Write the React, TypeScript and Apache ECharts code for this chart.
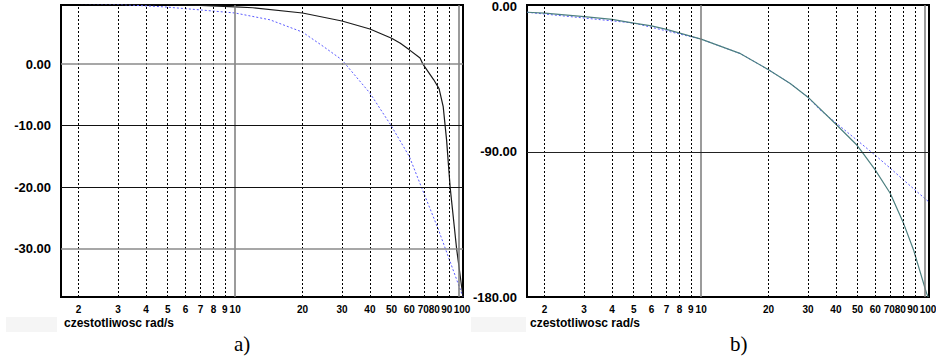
import React, { useEffect, useRef } from "react";
import * as echarts from "echarts";

// ---- data ----
const xMin = 1.668;
const xMax = 104.2;

const xTickValues = [2, 3, 4, 5, 6, 7, 8, 9, 10, 20, 30, 40, 50, 60, 70, 80, 90, 100];
const xMajorValues = [10, 100];

// plot a) magnitude
const yTicksA = [0, -10, -20, -30];
const yMinA = -37.8;
const yMaxA = 9.6;

const freqSolidA = [1.668, 5, 7, 10, 12, 20, 30, 40, 50, 54.7, 59.6, 67, 69, 77, 81.5, 85, 88, 91.3, 97.6, 104.2];
const magSolidA = [9.9, 9.7, 9.55, 9.3, 9.15, 8.3, 7.0, 5.7, 4.2, 3.4, 2.4, 1.0, 0, -2.5, -4.0, -6.9, -12.3, -20, -30, -37.8];

const freqDashA = [1.668, 3, 4.8, 7, 10, 14.3, 20, 24.8, 30, 32.7, 40, 50, 60, 68, 81, 87, 104.2];
const magDashA = [9.9, 9.7, 9.3, 8.8, 8.3, 7.2, 5.2, 2.86, 0.7, -0.93, -4.7, -10.1, -15, -20, -26.9, -30, -37.8];

// plot b) phase
const yTicksB = [0, -90, -180];
const yMinB = -180;
const yMaxB = 1.2;

const freqSolidB = [1.668, 2, 3, 4, 5, 6, 7, 10, 15, 20, 25, 30, 39.6, 49.6, 52.2, 59.8, 69.9, 80.2, 88.9, 101.6, 103.4];
const phSolidB = [-3.3, -3.9, -6, -7.7, -10, -11.8, -13.9, -20, -29, -39, -47.5, -56, -72.2, -85.7, -89.8, -101, -115.6, -134.3, -150.8, -177.7, -180];

const freqDashB = [1.668, 5, 10, 15, 20, 25, 30, 34, 49.6, 59.8, 70, 80.2, 101.6, 104.2];
const phDashB = [-3.3, -10, -20, -29, -39, -47.5, -56, -63.9, -82.6, -91.9, -100.1, -107.4, -119.8, -121];

const xAxisTitle = "czestotliwosc rad/s";

const pairs = (xs: number[], ys: number[]) => xs.map((x, i) => [x, ys[i]]);

const FONT = "'Liberation Sans', Arial, sans-serif";

// small label nudges for the crowded end of the log axis (pixels, +right)
const labelShift: Record<number, number> = { 70: -1, 80: -3, 90: -2, 100: 3 };

export default function App() {
  const ref = useRef<HTMLDivElement>(null);

  useEffect(() => {
    if (!ref.current) return;
    const chart = echarts.init(ref.current, null, { renderer: "svg" });

    const grids = [
      { left: 61, top: 5, width: 402, height: 292 },
      { left: 527, top: 5, width: 402, height: 292 },
    ];

    const vLines = () =>
      xTickValues.map((v) => {
        const major = xMajorValues.includes(v);
        const s = labelShift[v] || 0;
        return {
          xAxis: v,
          lineStyle: major
            ? { type: "solid", color: "#7a7a7a", width: 1.5 }
            : { type: [2, 2], color: "#000", width: 1 },
          label: {
            show: true,
            position: "start",
            distance: 7,
            formatter: String(v),
            fontFamily: FONT,
            fontWeight: "bold",
            fontSize: 10,
            color: "#000",
            padding: s >= 0 ? [0, 0, 0, 2 * s] : [0, -2 * s, 0, 0],
          },
        };
      });

    const gridSeries = (idx: number, yTicks: number[], hLineStyles: any[], pads: number[]) => ({
      type: "line",
      xAxisIndex: idx,
      yAxisIndex: idx,
      data: [],
      z: 1,
      silent: true,
      markLine: {
        silent: true,
        symbol: ["none", "none"],
        animation: false,
        emphasis: { disabled: true },
        data: [
          ...vLines(),
          ...yTicks.map((v, i) => ({
            yAxis: v,
            lineStyle: hLineStyles[i],
            label: {
              show: true,
              position: "start",
              distance: 10,
              formatter: v.toFixed(2),
              fontFamily: FONT,
              fontWeight: "bold",
              fontSize: 13,
              color: "#000",
              padding: [pads[i], 0, 0, 0],
            },
          })),
        ],
      },
    });

    const HIDDEN = { type: "solid", color: "rgba(0,0,0,0)", width: 1 };

    const option: any = {
      animation: false,
      backgroundColor: "#fff",
      grid: grids.map((g) => ({
        ...g,
        show: true,
        borderColor: "#000",
        borderWidth: 2,
        backgroundColor: "transparent",
        containLabel: false,
      })),
      xAxis: [0, 1].map((i) => ({
        type: "log",
        logBase: 10,
        gridIndex: i,
        min: xMin,
        max: xMax,
        axisLine: { show: false },
        axisTick: { show: false },
        axisLabel: { show: false },
        splitLine: { show: false },
        minorTick: { show: false },
      })),
      yAxis: [
        {
          type: "value",
          gridIndex: 0,
          min: yMinA,
          max: yMaxA,
          axisLine: { show: false },
          axisTick: { show: false },
          axisLabel: { show: false },
          splitLine: { show: false },
        },
        {
          type: "value",
          gridIndex: 1,
          min: yMinB,
          max: yMaxB,
          axisLine: { show: false },
          axisTick: { show: false },
          axisLabel: { show: false },
          splitLine: { show: false },
        },
      ],
      series: [
        gridSeries(
          0,
          yTicksA,
          [
            { type: "solid", color: "#8a8a8a", width: 1.5 },
            { type: "solid", color: "#111", width: 1 },
            { type: "solid", color: "#111", width: 1 },
            { type: "solid", color: "#8a8a8a", width: 1.5 },
          ],
          [0, 0, 0, 0]
        ),
        gridSeries(1, yTicksB, [HIDDEN, { type: "solid", color: "#222", width: 1 }, HIDDEN], [6, 0, 0]),
        {
          type: "line",
          xAxisIndex: 0,
          yAxisIndex: 0,
          data: pairs(freqDashA, magDashA),
          showSymbol: false,
          symbol: "none",
          clip: true,
          z: 3,
          lineStyle: { color: "#5a5aff", width: 1, type: [2, 2] },
        },
        {
          type: "line",
          xAxisIndex: 0,
          yAxisIndex: 0,
          data: pairs(freqSolidA, magSolidA),
          showSymbol: false,
          symbol: "none",
          clip: true,
          z: 4,
          lineStyle: { color: "#1a1a1a", width: 1.2 },
        },
        {
          type: "line",
          xAxisIndex: 1,
          yAxisIndex: 1,
          data: pairs(freqDashB, phDashB),
          showSymbol: false,
          symbol: "none",
          clip: true,
          z: 3,
          lineStyle: { color: "#5a5aff", width: 1, type: [2, 2] },
        },
        {
          type: "line",
          xAxisIndex: 1,
          yAxisIndex: 1,
          data: pairs(freqSolidB, phSolidB),
          showSymbol: false,
          symbol: "none",
          clip: true,
          z: 4,
          lineStyle: { color: "#4d8080", width: 1.2 },
        },
      ],
      graphic: [
        { type: "rect", left: 6, top: 317, shape: { width: 51, height: 15 }, style: { fill: "#f5f5f5" }, silent: true },
        { type: "rect", left: 471, top: 317, shape: { width: 55, height: 15 }, style: { fill: "#f5f5f5" }, silent: true },
        {
          type: "text",
          left: 64,
          top: 317,
          style: { text: xAxisTitle, font: `bold 12px ${FONT}`, fill: "#000" },
          silent: true,
        },
        {
          type: "text",
          left: 530,
          top: 317,
          style: { text: xAxisTitle, font: `bold 12px ${FONT}`, fill: "#000" },
          silent: true,
        },
        {
          type: "text",
          left: 234,
          top: 333,
          style: { text: "a)", font: `21px 'Liberation Serif', 'Times New Roman', serif`, fill: "#000" },
          silent: true,
        },
        {
          type: "text",
          left: 730,
          top: 333,
          style: { text: "b)", font: `21px 'Liberation Serif', 'Times New Roman', serif`, fill: "#000" },
          silent: true,
        },
      ],
    };

    chart.setOption(option);
    return () => chart.dispose();
  }, []);

  return (
    <div
      ref={ref}
      style={{ position: "absolute", left: 0, top: 0, width: 936, height: 360, background: "#fff" }}
    />
  );
}
